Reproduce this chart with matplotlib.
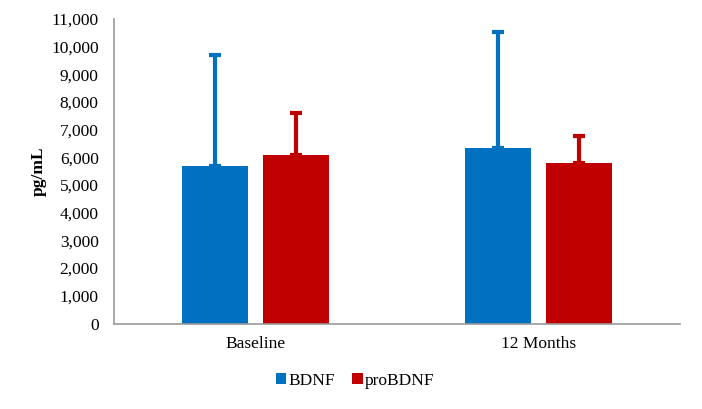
import matplotlib.pyplot as plt
import numpy as np

plt.rcParams['font.family'] = ['Liberation Serif', 'DejaVu Serif']

categories = ['Baseline', '12 Months']
series = ['BDNF', 'proBDNF']
bdnf = [5690, 6330]
bdnf_err = [4010, 4190]
probdnf = [6100, 5790]
probdnf_err = [1500, 990]
colors = ['#0070C0', '#C00000']
yticks = list(range(0, 11001, 1000))

fig = plt.figure(figsize=(7.02, 4.09), dpi=100)
ax = fig.add_axes([114/702, 1 - 323.5/409, 566/702, 304.5/409])

x = np.arange(len(categories))
w = 0.23
off = 0.143
for vals, errs, c, lab, d in [(bdnf, bdnf_err, colors[0], series[0], -off),
                               (probdnf, probdnf_err, colors[1], series[1], off)]:
    ax.bar(x + d, vals, width=w, color=c, label=lab, zorder=2)
    ax.errorbar(x + d, vals, yerr=[np.zeros(len(vals)), errs], fmt='none',
                ecolor=c, elinewidth=3, capsize=4, capthick=3, zorder=3)

ax.set_xlim(-0.5, 1.5)
ax.set_ylim(0, 11000)
ax.set_yticks(yticks)
ax.set_yticklabels([f'{v:,}' for v in yticks], fontsize=12.5)
ax.set_xticks(x)
ax.set_xticklabels(categories, fontsize=12.5)
ax.tick_params(axis='y', length=0, pad=11)
ax.tick_params(axis='x', length=0, pad=9)
for s in ['top', 'right']:
    ax.spines[s].set_visible(False)
for s in ['left', 'bottom']:
    ax.spines[s].set_color('#999999')
    ax.spines[s].set_linewidth(1.2)
ax.set_ylabel('pg/mL', fontsize=12.5, fontweight='bold', labelpad=3)

ax.legend(loc='center', bbox_to_anchor=(355/702, 1 - 381/409), bbox_transform=fig.transFigure,
          ncol=2, frameon=False, fontsize=12.5, handlelength=0.6, handleheight=0.6,
          handletextpad=0.1, columnspacing=1.0)

fig.savefig('out.png', dpi=100)
